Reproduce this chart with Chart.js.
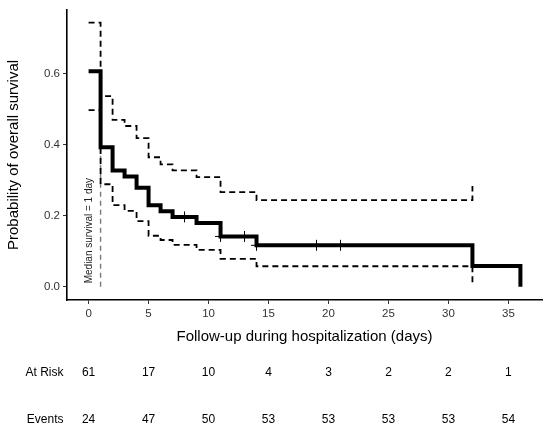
<!DOCTYPE html>
<html>
<head>
<meta charset="utf-8">
<script src="https://cdn.jsdelivr.net/npm/chart.js@4.4.1/dist/chart.umd.min.js"></script>
<style>
  html, body { margin: 0; padding: 0; background: #fff; }
  canvas { display: block; }
</style>
</head>
<body>
<canvas id="kmChart" width="550" height="430"></canvas>
<script>
// Kaplan-Meier estimate
const survTimes = [0, 1, 2, 3, 4, 5, 6, 7, 9, 11, 14, 32, 36];
const survProb = [0.607, 0.393, 0.328, 0.311, 0.279, 0.230, 0.213, 0.197, 0.180, 0.142, 0.117, 0.059, 0];

// confidence band
const ciTimes = [0, 1, 2, 3, 4, 5, 6, 7, 9, 11, 14, 32];
const upperCI = [0.744, 0.537, 0.470, 0.453, 0.419, 0.365, 0.345, 0.328, 0.309, 0.267, 0.244, 0.284];
const lowerCI = [0.498, 0.289, 0.230, 0.214, 0.185, 0.144, 0.132, 0.118, 0.104, 0.079, 0.058, 0.008];

// censored patients
const censorTimes = [8, 11, 13, 14, 19, 21];
const censorProb = [0.197, 0.142, 0.142, 0.117, 0.117, 0.117];

// median survival segment
const medianTimes = [1, 1];
const medianProb = [0, 0.5];

const xTicks = [0, 5, 10, 15, 20, 25, 30, 35];
const yTicks = [0, 0.2, 0.4, 0.6];

// number at risk table
const tableTimes = [0, 5, 10, 15, 20, 25, 30, 35];
const atRisk = [61, 17, 10, 4, 3, 2, 2, 1];
const events = [24, 47, 50, 53, 53, 53, 53, 54];

const FONT = "'Liberation Sans', Arial, sans-serif";

const toPoints = (xs, ys) => xs.map((x, i) => ({ x: x, y: ys[i] }));

// texte en plus: table du risque et mediane
const extraText = {
    id: 'extraText',
    afterDraw(chart) {
        const ctx = chart.ctx;
        const xs = chart.scales.x;
        const ys = chart.scales.y;

        ctx.save();
        ctx.fillStyle = '#222';
        ctx.font = '10px ' + FONT;
        ctx.translate(xs.getPixelForValue(0) + 1, ys.getPixelForValue(0.01));
        ctx.rotate(-Math.PI / 2);
        ctx.textAlign = 'left';
        ctx.textBaseline = 'middle';
        ctx.fillText('Median survival = 1 day', 0, 0);
        ctx.restore();

        ctx.save();
        ctx.fillStyle = '#000';
        ctx.font = '12px ' + FONT;
        ctx.textBaseline = 'middle';
        ctx.textAlign = 'right';
        ctx.fillText('At Risk', 63.5, 373);
        ctx.fillText('Events', 63.5, 420);
        ctx.textAlign = 'center';
        tableTimes.forEach((t, i) => {
            const px = xs.getPixelForValue(t);
            ctx.fillText(String(atRisk[i]), px, 373);
            ctx.fillText(String(events[i]), px, 420);
        });
        ctx.restore();
    }
};

const axisGrid = {
    display: true,
    drawOnChartArea: false,
    drawTicks: true,
    tickLength: 4,
    tickColor: '#333',
    tickWidth: 1
};

new Chart(document.getElementById('kmChart'), {
    type: 'line',
    data: {
        datasets: [
            {
                data: toPoints(ciTimes, upperCI),
                borderColor: '#000',
                borderWidth: 1.8,
                borderDash: [6, 4],
                stepped: true,
                pointRadius: 0
            },
            {
                data: toPoints(ciTimes, lowerCI),
                borderColor: '#000',
                borderWidth: 1.8,
                borderDash: [6, 4],
                stepped: true,
                pointRadius: 0
            },
            {
                data: toPoints(survTimes, survProb),
                borderColor: '#000',
                borderWidth: 4,
                stepped: true,
                pointRadius: 0
            },
            {
                type: 'scatter',
                data: toPoints(censorTimes, censorProb),
                showLine: false,
                pointStyle: 'cross',
                pointRadius: 5.5,
                borderColor: '#000',
                borderWidth: 1
            },
            {
                data: toPoints(medianTimes, medianProb),
                borderColor: '#7a7a7a',
                borderWidth: 1.4,
                borderDash: [5, 4],
                pointRadius: 0
            }
        ]
    },
    options: {
        responsive: false,
        animation: false,
        layout: { padding: { top: 7, right: 8, bottom: 80, left: 0 } },
        plugins: {
            legend: { display: false },
            tooltip: { enabled: false }
        },
        scales: {
            x: {
                type: 'linear',
                min: -1.8,
                max: 37.8,
                grid: axisGrid,
                border: { display: true, color: '#000', width: 1.6 },
                afterBuildTicks: (scale) => { scale.ticks = xTicks.map(v => ({ value: v })); },
                afterFit: (scale) => { scale.height = 50; },
                ticks: {
                    padding: 3,
                    color: '#333',
                    font: { family: FONT, size: 11.5 },
                    maxRotation: 0
                },
                title: {
                    display: true,
                    text: 'Follow-up during hospitalization (days)',
                    color: '#000',
                    font: { family: FONT, size: 15 }
                }
            },
            y: {
                type: 'linear',
                min: -0.037,
                max: 0.78,
                grid: axisGrid,
                border: { display: true, color: '#000', width: 1.6 },
                afterBuildTicks: (scale) => { scale.ticks = yTicks.map(v => ({ value: v })); },
                afterFit: (scale) => { scale.width = 67; },
                ticks: {
                    padding: 3,
                    color: '#333',
                    font: { family: FONT, size: 11.5 },
                    callback: (v) => v.toFixed(1)
                },
                title: {
                    display: true,
                    text: 'Probability of overall survival',
                    color: '#000',
                    padding: { top: 5, bottom: 4 },
                    font: { family: FONT, size: 15 }
                }
            }
        }
    },
    plugins: [extraText]
});
</script>
</body>
</html>
